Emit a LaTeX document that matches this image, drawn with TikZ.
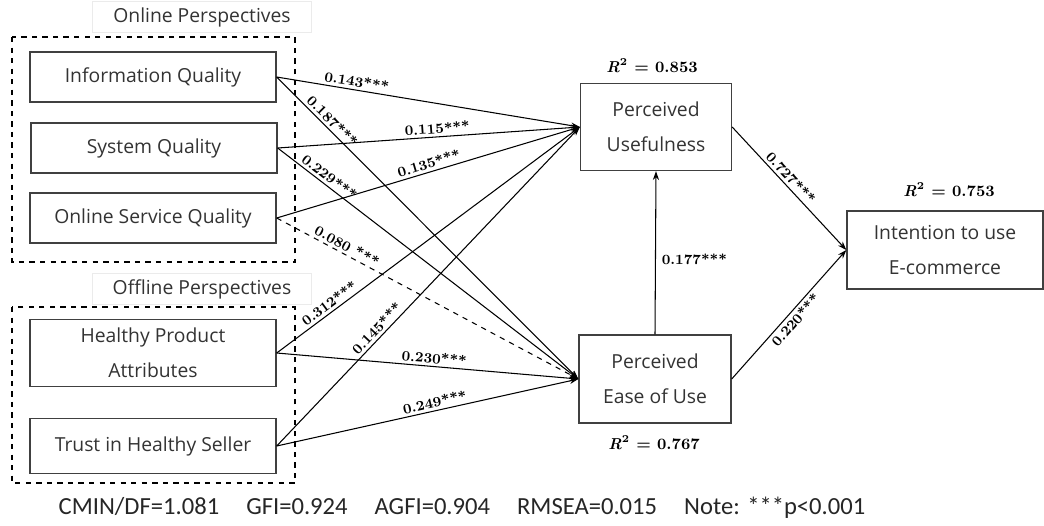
\documentclass[tikz,border=0pt]{standalone}
\usepackage{fontspec}
\setsansfont{Open Sans}
\newfontfamily\notefont{Carlito}
\usetikzlibrary{arrows.meta,positioning}

\begin{document}
\begin{tikzpicture}[
    x=0.02cm, y=-0.02cm,
    construct/.style={draw=black!75, line width=0.8pt, minimum width=4.92cm, minimum height=1cm, align=center, inner sep=0pt, font=\sffamily\fontsize{11}{20}\selectfont, text=black!80},
    grp/.style={draw, dashed, line width=0.7pt},
    grplabel/.style={draw=black!8, minimum width=4.38cm, minimum height=0.62cm, font=\sffamily\fontsize{11}{12}\selectfont, text=black!80},
    arr/.style={-{Stealth[length=5pt,width=3.5pt]}, line width=0.6pt},
    coef/.style={sloped, above, inner sep=1.5pt, font=\bfseries\fontsize{8}{9}\selectfont},
    rsq/.style={font=\bfseries\fontsize{9}{11}\selectfont}
]
\useasboundingbox (0,0) rectangle (1044,525);

\draw[grp] (12,37) rectangle (295,262);
\draw[grp] (12,307) rectangle (295,483);
\node[grplabel] (online) at (202,17) {Online Perspectives};
\node[grplabel] (offline) at (202,289) {Offline Perspectives};

\node[construct] (iq) at (153,77) {Information Quality};
\node[construct] (sq) at (154,148) {System Quality};
\node[construct] (osq) at (153,218) {Online Service Quality};
\node[construct, minimum height=1.34cm] (hpa) at (153,353) {Healthy Product\\Attributes};
\node[construct, minimum height=1.1cm] (ths) at (153,446) {Trust in Healthy Seller};

\node[construct, minimum width=3.02cm, minimum height=1.74cm] (pu) at (656,127) {Perceived\\Usefulness};
\node[construct, minimum width=3.04cm, minimum height=1.76cm] (peou) at (655,379) {Perceived\\Ease of Use};
\node[construct, minimum width=3.92cm, minimum height=1.56cm] (itu) at (945,250) {Intention to use\\E-commerce};

\node[rsq] (rpu) at (652,66) {\textit{R}\textsuperscript{2} = 0.853};
\node[rsq] (ritu) at (949,190) {\textit{R}\textsuperscript{2} = 0.753};
\node[rsq] (rpeou) at (654,443) {\textit{R}\textsuperscript{2} = 0.767};

\draw[arr] (iq.east) -- node[coef, pos=0.26] {0.143***} (pu.west);
\draw[arr] (iq.east) -- node[coef, pos=0.165] {0.187***} (peou.west);
\draw[arr] (sq.east) -- node[coef, pos=0.53] {0.115***} (pu.west);
\draw[arr] (sq.east) -- node[coef, pos=0.155] {0.229***} (peou.west);
\draw[arr] (osq.east) -- node[coef, pos=0.51] {0.135***} (pu.west);
\draw[arr, dashed] (osq.east) -- node[coef, pos=0.22] {0.080 ***} (peou.west);
\draw[arr] (hpa.east) -- node[coef, pos=0.19] {0.312***} (pu.west);
\draw[arr] (ths.east) -- node[coef, pos=0.35] {0.145***} (pu.west);
\draw[arr] (hpa.east) -- node[coef, pos=0.52] {0.230***} (peou.west);
\draw[arr] (ths.east) -- node[coef, pos=0.53] {0.249***} (peou.west);

\draw[arr] (peou.north) -- node[right, pos=0.46, font=\bfseries\fontsize{8}{9}\selectfont] {0.177***} (pu.south);
\draw[arr] (pu.east) -- node[coef, pos=0.46] {0.727***} (itu.west);
\draw[arr] (peou.east) -- node[coef, below, pos=0.5] {0.220***} (itu.west);

\node[font=\notefont\fontsize{14}{16}\selectfont, text=black!85] (fitidx) at (462,508)
  {CMIN/DF=1.081\hspace{1.1em}GFI=0.924\hspace{1.1em}AGFI=0.904\hspace{1.1em}RMSEA=0.015\hspace{1.1em}Note: ***p<0.001};
\end{tikzpicture}
\end{document}
